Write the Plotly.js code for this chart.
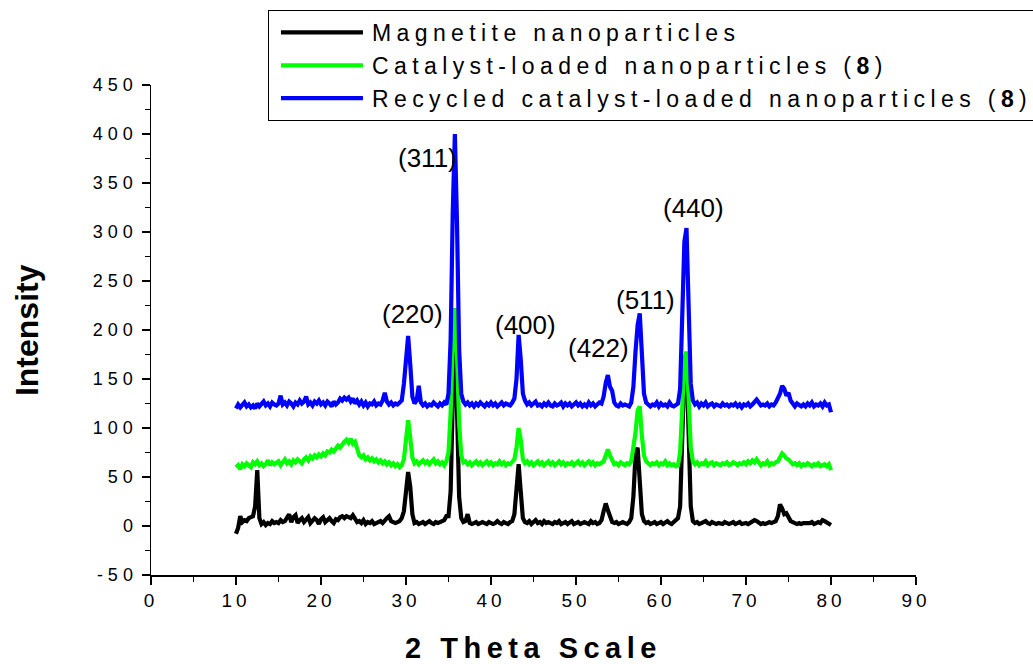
<!DOCTYPE html>
<html>
<head>
<meta charset="utf-8">
<script src="https://cdn.plot.ly/plotly-3.0.1.min.js"></script>
<style>
  html, body { margin: 0; padding: 0; background: #fff; }
  #chart { width: 1033px; height: 664px; }
  .xtick text { letter-spacing: 4px; }
  .ytick text { letter-spacing: 5px; }
  .legendtext { letter-spacing: 5.4px; }
  .g-xtitle text { letter-spacing: 5.5px; }
</style>
</head>
<body>
<div id="chart"></div>
<script>
// 2-theta sampling grid
var thetaStart = 10;
var thetaStep = 0.25;

// Magnetite nanoparticles (black)
var magnetite = [
  -8, -2, 10, 4,
  6, 5, 8, 9,
  10, 20, 57, 8,
  2, 4, 1, 3,
  2, 5, 3, 4,
  3, 6, 4, 5,
  8, 12, 4, 9,
  11, 3, 6, 8,
  4, 7, 9, 3,
  5, 8, 6, 2,
  7, 9, 4, 6,
  8, 5, 3, 7,
  6, 9, 10, 8,
  10, 9, 8, 11,
  7, 4, 5, 3,
  6, 2, 4, 3,
  5, 2, 3, 4,
  5, 3, 6, 8,
  10, 5, 4, 3,
  4, 5, 8, 15,
  35, 55, 40, 12,
  3, 4, 2, 3,
  4, 2, 3, 5,
  3, 2, 4, 3,
  4, 5, 6, 10,
  10, 35, 140, 222,
  120, 30, 8, 4,
  5, 12, 3, 2,
  3, 4, 2, 3,
  4, 3, 2, 4,
  3, 2, 3, 5,
  3, 2, 4, 3,
  2, 4, 5, 12,
  40, 63, 35, 8,
  4, 3, 5, 2,
  4, 6, 3, 4,
  2, 5, 3, 4,
  3, 2, 4, 3,
  5, 2, 3, 4,
  2, 3, 5, 2,
  3, 4, 2, 3,
  4, 3, 2, 5,
  3, 4, 2, 3,
  6, 15, 23, 16,
  8, 4, 3, 4,
  2, 3, 4, 3,
  2, 4, 8, 30,
  72, 80, 45, 12,
  5, 3, 4, 2,
  3, 4, 2, 3,
  4, 2, 3, 5,
  3, 2, 4, 6,
  8, 20, 80, 160,
  170, 90, 20, 5,
  3, 4, 2, 3,
  4, 5, 3, 2,
  4, 3, 2, 3,
  3, 2, 4, 3,
  2, 3, 4, 2,
  3, 4, 2, 3,
  3, 2, 3, 4,
  6, 5, 3, 2,
  3, 2, 3, 4,
  3, 4, 5, 10,
  22, 18, 12, 13,
  8, 5, 4, 3,
  2, 3, 2, 3,
  3, 2, 3, 4,
  2, 3, 4, 3,
  6, 5, 4, 2,
  1
];

// Catalyst-loaded nanoparticles (green)
var catalystLoaded = [
  60, 62, 58, 63,
  61, 64, 62, 60,
  65, 63, 66, 62,
  64, 61, 63, 67,
  62, 65, 63, 64,
  66, 62, 65, 68,
  64, 66, 63, 67,
  65, 68, 66, 64,
  68, 70, 67, 71,
  69, 72, 70, 73,
  71, 74, 72, 76,
  75, 78, 76, 80,
  82, 80, 84, 86,
  88, 85, 89, 84,
  86, 80, 72, 70,
  72, 68, 70, 67,
  69, 66, 68, 65,
  67, 64, 66, 63,
  65, 62, 64, 61,
  63, 60, 62, 68,
  85, 108, 90, 70,
  64, 66, 63, 65,
  67, 64, 66, 63,
  65, 68, 64, 66,
  63, 65, 62, 66,
  75, 115, 185, 222,
  175, 105, 72, 65,
  66, 63, 65, 62,
  64, 66, 63, 65,
  62, 64, 66, 63,
  65, 62, 64, 63,
  66, 63, 65, 62,
  64, 63, 66, 68,
  80, 100, 88, 68,
  64, 66, 63, 65,
  62, 64, 66, 63,
  65, 62, 64, 66,
  63, 65, 62, 64,
  66, 63, 65, 62,
  64, 63, 65, 62,
  64, 66, 63, 65,
  62, 64, 66, 63,
  65, 62, 64, 63,
  65, 66, 72, 78,
  72, 66, 63, 64,
  62, 65, 63, 62,
  64, 63, 66, 78,
  95, 118, 122, 92,
  72, 66, 64, 62,
  64, 63, 65, 62,
  64, 63, 66, 62,
  64, 62, 63, 61,
  62, 75, 120, 170,
  178, 130, 80, 66,
  63, 65, 62, 64,
  63, 66, 62, 64,
  65, 62, 64, 63,
  62, 64, 63, 65,
  62, 63, 65, 64,
  62, 64, 63, 65,
  63, 66, 64, 67,
  65, 68, 64, 62,
  64, 63, 66, 62,
  64, 63, 65, 66,
  70, 74, 72, 69,
  68, 65, 63, 64,
  62, 64, 61, 63,
  62, 64, 63, 61,
  63, 62, 64, 61,
  62, 63, 61, 63,
  57
];

// Recycled catalyst-loaded nanoparticles (blue)
var recycled = [
  120, 124, 121, 123,
  126, 122, 124, 121,
  123, 120, 125, 122,
  124, 127, 123, 125,
  122, 126, 124, 123,
  125, 133, 124, 126,
  123, 127, 125, 122,
  126, 124, 128, 125,
  127, 132, 124, 126,
  123, 127, 125, 128,
  124, 126, 123, 127,
  125, 122, 127, 124,
  126, 130, 128, 131,
  129, 131, 127, 130,
  125, 128, 124, 127,
  123, 126, 122, 125,
  124, 127, 123, 125,
  124, 128, 136, 127,
  124, 126, 123, 125,
  124, 126, 128, 145,
  170, 194, 165, 132,
  125, 128, 143, 126,
  123, 125, 122, 124,
  123, 126, 124, 122,
  125, 123, 126, 124,
  135, 190, 320, 400,
  310, 180, 135, 127,
  124, 126, 123, 125,
  122, 125, 123, 126,
  124, 122, 125, 123,
  126, 123, 125, 122,
  124, 126, 123, 125,
  124, 123, 126, 130,
  150, 195, 170, 135,
  128, 124, 126, 123,
  125, 127, 123, 124,
  122, 125, 123, 126,
  123, 122, 125, 123,
  124, 126, 122, 125,
  123, 125, 122, 124,
  126, 123, 125, 122,
  124, 122, 126, 123,
  125, 122, 124, 126,
  125, 132, 146, 154,
  142, 138, 126, 123,
  122, 125, 123, 124,
  123, 122, 126, 142,
  178, 205, 217, 170,
  135, 126, 124, 122,
  124, 123, 126, 122,
  125, 123, 124, 122,
  126, 123, 122, 124,
  125, 140, 210, 290,
  304, 220, 145, 128,
  124, 126, 122, 125,
  123, 126, 122, 124,
  125, 122, 124, 123,
  122, 125, 123, 124,
  122, 124, 123, 125,
  122, 124, 121, 124,
  123, 125, 122, 124,
  127, 129, 126, 123,
  124, 123, 125, 122,
  124, 123, 126, 130,
  135, 143, 140, 133,
  136, 128, 124, 122,
  125, 123, 122, 124,
  122, 125, 123, 126,
  122, 124, 123, 125,
  122, 126, 123, 124,
  116
];

var seriesNames = [
  'Magnetite nanoparticles',
  'Catalyst-loaded nanoparticles (<b>8</b>)',
  'Recycled catalyst-loaded nanoparticles (<b>8</b>)'
];
var seriesColors = ['#000000', '#00ff00', '#0000ff'];

// axis ticks
var yTickValues = [-50, 0, 50, 100, 150, 200, 250, 300, 350, 400, 450];
var yTickLabels = ['-50', '0', '50', '100', '150', '200', '250', '300', '350', '400', '450'];

// peak labels
var peakLabels = ['(311)', '(220)', '(400)', '(422)', '(511)', '(440)'];
var peakLabelX = [32.5, 30.8, 44.1, 52.6, 58.2, 63.8];
var peakLabelY = [376, 216, 205, 182, 231, 325];

var theta = magnetite.map(function (_, i) { return thetaStart + i * thetaStep; });
var allSeries = [magnetite, catalystLoaded, recycled];

var traces = allSeries.map(function (ys, k) {
  return {
    x: theta, y: ys, type: 'scatter', mode: 'lines',
    name: seriesNames[k],
    line: { color: seriesColors[k], width: 4.2 },
    hoverinfo: 'skip'
  };
});

var annotations = peakLabels.map(function (t, i) {
  return {
    x: peakLabelX[i], y: peakLabelY[i], xref: 'x', yref: 'y',
    text: t, showarrow: false,
    font: { family: 'Liberation Sans, Arial, sans-serif', size: 26, color: '#000' }
  };
});
// y-axis title drawn as a rotated annotation
annotations.push({
  xref: 'paper', yref: 'paper', x: -0.162, y: 0.5,
  xanchor: 'center', yanchor: 'middle',
  text: '<b>Intensity</b>', textangle: -90, showarrow: false,
  font: { family: 'Liberation Sans, Arial, sans-serif', size: 32, color: '#000' }
});

var layout = {
  width: 1033, height: 664,
  paper_bgcolor: '#fff', plot_bgcolor: '#fff',
  margin: { l: 151, r: 117, t: 85, b: 89, autoexpand: false },
  font: { family: 'Liberation Sans, Arial, sans-serif', color: '#000' },
  showlegend: true,
  legend: {
    xref: 'container', yref: 'container',
    x: 0.2594, y: 0.985, xanchor: 'left', yanchor: 'top',
    bgcolor: '#fff', bordercolor: '#000', borderwidth: 1,
    font: { family: 'Liberation Sans, Arial, sans-serif', size: 23, color: '#000' },
    itemwidth: 93, tracegroupgap: 0
  },
  xaxis: {
    range: [0, 90], dtick: 10, tick0: 0,
    showgrid: false, zeroline: false,
    showline: true, linecolor: '#000', linewidth: 1.5,
    ticks: 'outside', ticklen: 8, tickwidth: 1.5, tickcolor: '#000',
    minor: { ticks: 'outside', dtick: 5, ticklen: 5, tickwidth: 1.5, tickcolor: '#000' },
    tickfont: { size: 19, color: '#000' },
    title: { text: '<b>2 Theta Scale</b>', font: { size: 29, color: '#000' }, standoff: 28 }
  },
  yaxis: {
    range: [-50, 450],
    tickmode: 'array', tickvals: yTickValues, ticktext: yTickLabels,
    showgrid: false, zeroline: false,
    showline: true, linecolor: '#000', linewidth: 1.5,
    ticks: 'outside', ticklen: 8, tickwidth: 1.5, tickcolor: '#000',
    minor: { ticks: 'outside', tickmode: 'linear', tick0: -25, dtick: 50, ticklen: 5, tickwidth: 1.5, tickcolor: '#000' },
    tickfont: { size: 18, color: '#000' }
  },
  annotations: annotations
};

Plotly.newPlot('chart', traces, layout, { staticPlot: true, displayModeBar: false }).then(function () {
  document.querySelectorAll('.legendlines path').forEach(function (p) {
    p.setAttribute('d', 'M12,0h82');
  });
});
</script>
</body>
</html>
